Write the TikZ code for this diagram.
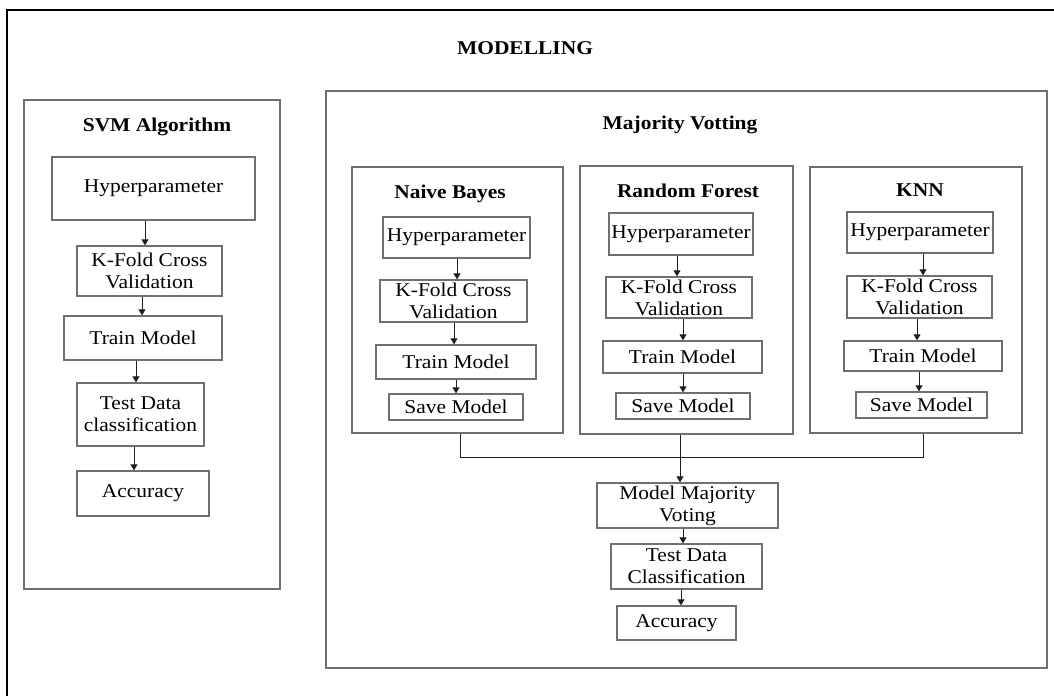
\documentclass[tikz,border=0pt]{standalone}
\usepackage{fontspec}
\setmainfont{Liberation Serif}[FakeStretch=1.1]
\usetikzlibrary{arrows.meta}
\definecolor{boxgray}{RGB}{112,112,112}
\definecolor{linedark}{RGB}{30,30,30}
\tikzset{
  procbox/.style={draw=boxgray, line width=1.3pt, inner sep=0pt, align=center,
    font=\fontsize{19.5}{22}\selectfont},
  groupbox/.style={draw=boxgray, line width=1.3pt, inner sep=0pt},
  titletext/.style={font=\bfseries\fontsize{19.5}{22}\selectfont, inner sep=0pt},
  arr/.style={-{Triangle[length=6pt,width=7pt]}, line width=1pt, draw=linedark, fill=linedark},
  conn/.style={line width=1pt, draw=linedark}
}
\begin{document}
\begin{tikzpicture}[x=1pt,y=-1pt]
\useasboundingbox (0,0) rectangle (1054,696);
% outer frame (cropped at right and bottom)
\coordinate (frameBL) at (7,696);
\coordinate (frameTL) at (7,10);
\coordinate (frameTR) at (1054,10);
\draw[black, line width=1.3pt] (frameBL) -- (frameTL) -- (frameTR);
\node[titletext] (modelling) at (525,48) {MODELLING};

% group boxes
\node[groupbox, minimum width=256pt, minimum height=489pt] (svm) at (152,344.5) {};
\node[groupbox, minimum width=721pt, minimum height=577pt] (maj) at (686.5,379.5) {};
\node[groupbox, minimum width=211pt, minimum height=266pt] (nb) at (457.5,300) {};
\node[groupbox, minimum width=213pt, minimum height=268pt] (rf) at (686.5,300) {};
\node[groupbox, minimum width=212pt, minimum height=266pt] (knn) at (916,300) {};

% titles
\node[titletext] (svmtitle) at (157,127) {SVM Algorithm};
\node[titletext] (majtitle) at (680,125) {Majority Votting};
\node[titletext] (nbtitle) at (450,194) {Naive Bayes};
\node[titletext] (rftitle) at (688,191) {Random Forest};
\node[titletext] (knntitle) at (920,190) {KNN};

% SVM column
\node[procbox, minimum width=203pt, minimum height=63pt] (svmH) at (153.5,188.5) {Hyperparameter};
\node[procbox, minimum width=145pt, minimum height=50pt] (svmK) at (149.5,271) {K-Fold Cross\\Validation};
\node[procbox, minimum width=158pt, minimum height=44pt] (svmT) at (143,338) {Train Model};
\node[procbox, minimum width=127pt, minimum height=63pt] (svmD) at (140.5,414.5) {Test Data\\classification};
\node[procbox, minimum width=132pt, minimum height=45pt] (svmA) at (143,493.5) {Accuracy};
\draw[arr] (145,0 |- svmH.south) -- (145,0 |- svmK.north);
\draw[arr] (142,0 |- svmK.south) -- (142,0 |- svmT.north);
\draw[arr] (136,0 |- svmT.south) -- (136,0 |- svmD.north);
\draw[arr] (134,0 |- svmD.south) -- (134,0 |- svmA.north);

% Naive Bayes column
\node[procbox, minimum width=147pt, minimum height=41pt] (nbH) at (456.5,237.5) {Hyperparameter};
\node[procbox, minimum width=147pt, minimum height=42pt] (nbK) at (453.5,301) {K-Fold Cross\\Validation};
\node[procbox, minimum width=160pt, minimum height=34pt] (nbT) at (456,362) {Train Model};
\node[procbox, minimum width=134pt, minimum height=26pt] (nbS) at (456,407) {Save Model};
\draw[arr] (457,0 |- nbH.south) -- (457,0 |- nbK.north);
\draw[arr] (454,0 |- nbK.south) -- (454,0 |- nbT.north);
\draw[arr] (456,0 |- nbT.south) -- (456,0 |- nbS.north);

% Random Forest column
\node[procbox, minimum width=144pt, minimum height=42pt] (rfH) at (681,234) {Hyperparameter};
\node[procbox, minimum width=146pt, minimum height=41pt] (rfK) at (679,297.5) {K-Fold Cross\\Validation};
\node[procbox, minimum width=159pt, minimum height=32pt] (rfT) at (682.5,357) {Train Model};
\node[procbox, minimum width=134pt, minimum height=26pt] (rfS) at (683,406) {Save Model};
\draw[arr] (677,0 |- rfH.south) -- (677,0 |- rfK.north);
\draw[arr] (683,0 |- rfK.south) -- (683,0 |- rfT.north);
\draw[arr] (683,0 |- rfT.south) -- (683,0 |- rfS.north);

% KNN column
\node[procbox, minimum width=146pt, minimum height=41pt] (kH) at (920,232.5) {Hyperparameter};
\node[procbox, minimum width=145pt, minimum height=42pt] (kK) at (919.5,297) {K-Fold Cross\\Validation};
\node[procbox, minimum width=158pt, minimum height=30pt] (kT) at (923,356) {Train Model};
\node[procbox, minimum width=131pt, minimum height=26pt] (kS) at (921.5,405) {Save Model};
\draw[arr] (923,0 |- kH.south) -- (923,0 |- kK.north);
\draw[arr] (917,0 |- kK.south) -- (917,0 |- kT.north);
\draw[arr] (919,0 |- kT.south) -- (919,0 |- kS.north);

% voting stage
\node[procbox, minimum width=181pt, minimum height=45pt] (mmv) at (687.5,505.5) {Model Majority\\Voting};
\node[procbox, minimum width=151pt, minimum height=45pt] (tdc) at (686.5,566.5) {Test Data\\Classification};
\node[procbox, minimum width=119pt, minimum height=34pt] (acc) at (676.5,623) {Accuracy};

\coordinate (joinL) at (460,457);
\coordinate (joinR) at (923,457);
\draw[conn] (460,0 |- nb.south) -- (joinL) -- (joinR) -- (923,0 |- knn.south);
\draw[arr] (680,0 |- rf.south) -- (680,0 |- mmv.north);
\draw[arr] (683,0 |- mmv.south) -- (683,0 |- tdc.north);
\draw[arr] (681,0 |- tdc.south) -- (681,0 |- acc.north);
\end{tikzpicture}
\end{document}
